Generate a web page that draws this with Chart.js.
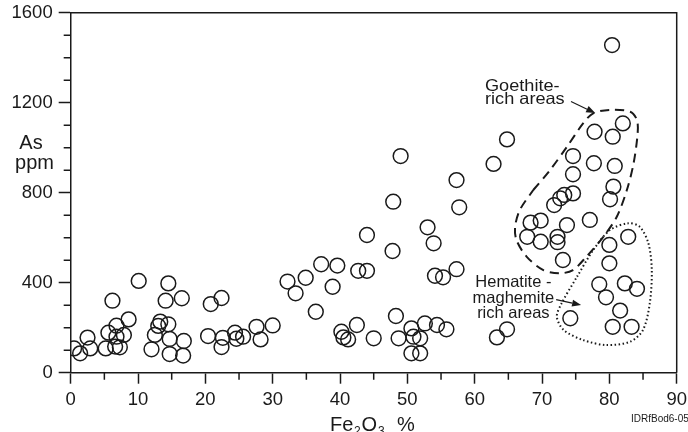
<!DOCTYPE html>
<html><head><meta charset="utf-8">
<script src="https://cdn.jsdelivr.net/npm/chart.js@4/dist/chart.umd.min.js"></script>
<style>html,body{margin:0;padding:0;background:#fff}#wrap{width:688px;height:432px}</style>
</head><body><div id="wrap"><canvas id="c" width="688" height="432"></canvas></div>
<script>
// ---- data: Fe2O3 % (x) and As ppm (y) for each sample ----
const fe2o3Pct = [
  0.5,1.4,2.5,2.9,5.2,5.6,6.2,6.8,6.8,6.6,7.3,7.9,8.6,10.1,
  12.0,12.5,13.0,13.3,14.5,14.1,14.5,14.7,14.7,16.5,16.8,16.7,
  20.8,22.4,20.4,22.6,22.4,24.4,24.6,25.6,27.6,28.2,30.0,
  32.2,33.4,34.9,37.2,39.6,38.9,36.4,42.7,44.0,44.0,42.5,40.2,40.5,41.2,45.0,
  47.8,47.9,49.0,48.3,48.7,50.6,50.9,51.9,52.6,54.4,55.8,50.6,51.9,53.0,53.9,54.1,55.3,57.3,57.3,57.7,62.8,64.8,63.3,64.8,
  82.0,77.8,80.5,74.6,77.7,80.8,74.6,80.6,80.1,74.6,73.3,72.7,71.8,68.3,69.8,73.7,77.1,67.8,69.8,72.3,72.3,73.1,
  80.0,82.8,80.0,78.5,82.3,84.1,79.5,81.6,74.2,80.5,83.3,
  80.4
];
const asPpm = [
  108,86,156,108,108,178,320,209,160,116,113,168,237,408,
  104,168,208,227,215,320,397,150,83,331,141,76,
  305,332,163,155,114,178,151,160,204,148,210,
  405,353,422,482,476,382,271,453,453,612,212,182,157,148,153,
  541,760,963,252,153,197,160,153,219,212,193,86,86,646,575,431,424,460,856,735,928,1037,157,193,
  1108,1071,1049,963,931,919,882,827,771,797,790,775,745,667,676,656,679,604,582,604,580,501,
  568,604,486,393,397,373,335,276,242,204,204,
  1456
];
// ---- hand-drawn envelopes (data coordinates) ----
const goethiteEnvX = [68.7,71.2,73.7,76.1,77.6,80.1,83.1,84.1,84.2,83.6,82.6,81.1,79.1,76.6,74.6,72.7,70.2,67.7,66.2,66.0,66.7,68.7];
const goethiteEnvY = [812,901,1004,1108,1153,1168,1160,1123,1064,931,812,693,604,516,456,442,456,516,590,649,723,812];
const hematiteEnvX = [75.2,77.6,80.1,82.8,84.5,85.8,86.3,86.0,85.0,83.1,79.6,76.1,73.2,72.2,72.9,75.2];
const hematiteEnvY = [427,545,634,664,649,575,456,308,190,138,123,145,190,249,308,427];
// ---- axis ticks ----
const xTickLabels = [0,10,20,30,40,50,60,70,80,90];
const yTickLabels = [0,400,800,1200,1600];

const FONT = '"Liberation Sans", Arial, Helvetica, sans-serif';
const INK = '#1a1a1a';

const toPts = (xs, ys) => xs.map((x, i) => ({x, y: ys[i]}));

const annotations = {
  goethite: {x: 61.53, y: [1253, 1194], lines: ['Goethite-', 'rich areas'], align: 'left',
             size: 16.5, stretch: 1.1,
             arrowFrom: [74.3, 1205], arrowTo: [77.9, 1154]},
  hematite: {x: 65.74, y: [383, 312, 241], lines: ['Hematite -', 'maghemite', 'rich areas'], align: 'center',
             size: 16.5, stretch: 1.0,
             arrowFrom: [72.1, 325], arrowTo: [75.8, 301]}
};

function arrow(ctx, x1, y1, x2, y2) {
  const a = Math.atan2(y2 - y1, x2 - x1), L = 9, W = 3.5;
  const bx = x2 - L * Math.cos(a), by = y2 - L * Math.sin(a);
  ctx.beginPath(); ctx.moveTo(x1, y1); ctx.lineTo(bx, by); ctx.stroke();
  ctx.beginPath(); ctx.moveTo(x2, y2);
  ctx.lineTo(bx + W * Math.sin(a), by - W * Math.cos(a));
  ctx.lineTo(bx - W * Math.sin(a), by + W * Math.cos(a));
  ctx.closePath(); ctx.fill();
}

const decor = {
  id: 'decor',
  afterDraw(chart) {
    const {ctx, chartArea: ca, scales: {x, y}} = chart;
    ctx.save();
    ctx.strokeStyle = INK; ctx.fillStyle = INK; ctx.lineWidth = 1.5;
    // frame (top, right)
    ctx.beginPath();
    ctx.moveTo(ca.left, ca.top); ctx.lineTo(ca.right, ca.top); ctx.lineTo(ca.right, ca.bottom);
    ctx.stroke();
    // minor ticks
    ctx.beginPath();
    for (let v = 100; v < 1600; v += 100) {
      if (yTickLabels.includes(v)) continue;
      const py = y.getPixelForValue(v);
      ctx.moveTo(ca.left - 7, py); ctx.lineTo(ca.left, py);
    }
    for (let v = 5; v < 90; v += 10) {
      const px = x.getPixelForValue(v);
      ctx.moveTo(px, ca.bottom); ctx.lineTo(px, ca.bottom + 7);
    }
    ctx.stroke();
    // annotations
    ctx.textBaseline = 'alphabetic';
    for (const k in annotations) {
      const a = annotations[k];
      ctx.font = a.size + 'px ' + FONT;
      ctx.textAlign = a.align;
      a.lines.forEach((t, i) => {
        const px = x.getPixelForValue(a.x), py = y.getPixelForValue(a.y[i]);
        ctx.save(); ctx.translate(px, py); ctx.scale(a.stretch, 1);
        ctx.fillText(t, 0, 0); ctx.restore();
      });
      ctx.lineWidth = 1.2;
      arrow(ctx, x.getPixelForValue(a.arrowFrom[0]), y.getPixelForValue(a.arrowFrom[1]),
                 x.getPixelForValue(a.arrowTo[0]), y.getPixelForValue(a.arrowTo[1]));
    }
    // y axis title
    ctx.font = '20px ' + FONT; ctx.textAlign = 'center';
    ctx.fillText('As', 31, 148.5);
    ctx.fillText('ppm', 34.5, 168.5);
    // x axis title Fe2O3 %
    ctx.textAlign = 'left';
    const base = 430.5;
    ctx.font = '20px ' + FONT;
    ctx.fillText('Fe', 330, base);
    ctx.font = '12px ' + FONT; ctx.fillText('2', 354, base + 4);
    ctx.font = '20px ' + FONT; ctx.fillText('O', 361.5, base);
    ctx.font = '12px ' + FONT; ctx.fillText('3', 378, base + 4);
    ctx.font = '20px ' + FONT; ctx.fillText('%', 397, base);
    // figure id
    ctx.font = '10px "Liberation Sans Narrow", ' + FONT;
    ctx.fillText('IDRfBod6-05', 631, 421.5);
    ctx.restore();
  }
};

new Chart(document.getElementById('c'), {
  type: 'scatter',
  data: {
    datasets: [
      {data: toPts(fe2o3Pct, asPpm), pointRadius: 7.4, pointHoverRadius: 7.4, borderWidth: 1.5,
       borderColor: INK, backgroundColor: 'rgba(0,0,0,0)', pointStyle: 'circle'},
      {data: toPts(goethiteEnvX, goethiteEnvY), showLine: true, pointRadius: 0, borderColor: INK,
       borderWidth: 2, borderDash: [9, 6], tension: 0.3, fill: false},
      {data: toPts(hematiteEnvX, hematiteEnvY), showLine: true, pointRadius: 0, borderColor: INK,
       borderWidth: 2, borderDash: [1.5, 2.5], tension: 0.3, fill: false}
    ]
  },
  options: {
    responsive: false, animation: false, devicePixelRatio: 1,
    layout: {padding: {left: 0, right: 11.3, top: 12.7, bottom: 0}},
    plugins: {legend: {display: false}, tooltip: {enabled: false}, title: {display: false}},
    scales: {
      x: {
        type: 'linear', min: 0, max: 90,
        afterFit: s => { s.height = 59.3; s.paddingLeft = 0; s.paddingRight = 0; },
        ticks: {stepSize: 5, autoSkip: false, maxRotation: 0, padding: 5, color: INK,
                font: {family: FONT, size: 18.5},
                callback: v => xTickLabels.includes(v) ? String(v) : ''},
        grid: {drawOnChartArea: false, drawTicks: true, tickLength: 11, tickWidth: 1.5,
               tickColor: c => (c.tick && xTickLabels.includes(c.tick.value)) ? INK : 'rgba(0,0,0,0)'},
        border: {display: true, color: INK, width: 1.5}
      },
      y: {
        type: 'linear', min: 0, max: 1600,
        afterFit: s => { s.width = 70.7; s.paddingTop = 0; s.paddingBottom = 0; },
        ticks: {stepSize: 100, autoSkip: false, padding: 6, color: INK,
                font: {family: FONT, size: 18.5},
                callback: v => yTickLabels.includes(v) ? String(v) : ''},
        grid: {drawOnChartArea: false, drawTicks: true, tickLength: 12, tickWidth: 1.5,
               tickColor: c => (c.tick && yTickLabels.includes(c.tick.value)) ? INK : 'rgba(0,0,0,0)'},
        border: {display: true, color: INK, width: 1.5}
      }
    }
  },
  plugins: [decor]
});
</script></body></html>
